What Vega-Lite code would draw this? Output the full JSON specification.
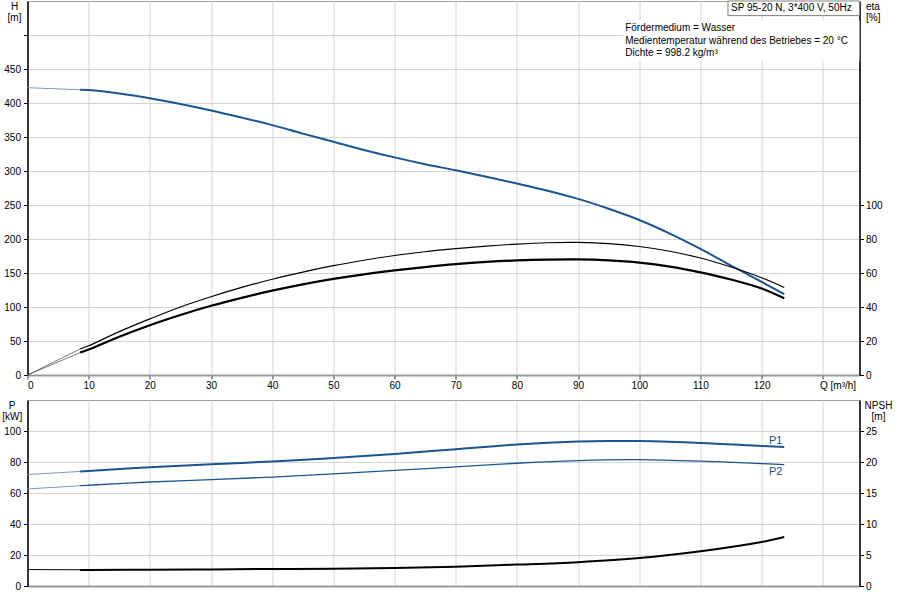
{
  "$schema": "https://vega.github.io/schema/vega-lite/v6.json",
  "background": "white",
  "padding": {"left": 0.5, "top": 0, "right": 0, "bottom": 0},
  "spacing": 25,
  "bounds": "flush",
  "config": {
    "font": "Liberation Sans",
    "view": {"stroke": "#a0a0a0", "strokeWidth": 1},
    "axis": {
      "labelFont": "Liberation Sans", "labelFontSize": 10, "labelColor": "#000000",
      "titleFont": "Liberation Sans", "titleFontSize": 10, "titleFontWeight": "normal", "titleColor": "#000000",
      "gridColor": "#d4d4d4", "gridWidth": 1, "tickSize": 4, "tickColor": "#333333", "labelPadding": 3
    },
    "text": {"font": "Liberation Sans", "fontSize": 10}
  },
  "datasets": {
    "head": [
      {"Q": 0, "v": 422.5, "part": "ext"}, {"Q": 8.6, "v": 419.5, "part": "ext"},
      {"Q": 8.6, "v": 419.5, "part": "main"}, {"Q": 10, "v": 419, "part": "main"}, {"Q": 15, "v": 414, "part": "main"},
      {"Q": 20, "v": 407, "part": "main"}, {"Q": 25, "v": 398.5, "part": "main"}, {"Q": 30, "v": 389, "part": "main"},
      {"Q": 35, "v": 378.5, "part": "main"}, {"Q": 40, "v": 367.5, "part": "main"}, {"Q": 45, "v": 355, "part": "main"},
      {"Q": 50, "v": 343, "part": "main"}, {"Q": 55, "v": 331, "part": "main"}, {"Q": 60, "v": 320, "part": "main"},
      {"Q": 65, "v": 310, "part": "main"}, {"Q": 70, "v": 301, "part": "main"}, {"Q": 75, "v": 291.5, "part": "main"},
      {"Q": 80, "v": 281.5, "part": "main"}, {"Q": 85, "v": 271, "part": "main"}, {"Q": 90, "v": 259, "part": "main"},
      {"Q": 95, "v": 244.5, "part": "main"}, {"Q": 100, "v": 228, "part": "main"}, {"Q": 105, "v": 208, "part": "main"},
      {"Q": 110, "v": 185.5, "part": "main"}, {"Q": 115, "v": 161, "part": "main"}, {"Q": 120, "v": 137, "part": "main"},
      {"Q": 123.7, "v": 119, "part": "main"}
    ],
    "eta": [
      {"Q": 0, "v": 0, "curve": "eta1", "part": "ext"}, {"Q": 8.6, "v": 15.3, "curve": "eta1", "part": "ext"},
      {"Q": 8.6, "v": 15.3, "curve": "eta1", "part": "main"}, {"Q": 10, "v": 17.2, "curve": "eta1", "part": "main"},
      {"Q": 15, "v": 25.5, "curve": "eta1", "part": "main"}, {"Q": 20, "v": 33, "curve": "eta1", "part": "main"},
      {"Q": 25, "v": 40, "curve": "eta1", "part": "main"}, {"Q": 30, "v": 46, "curve": "eta1", "part": "main"},
      {"Q": 35, "v": 51.5, "curve": "eta1", "part": "main"}, {"Q": 40, "v": 56.3, "curve": "eta1", "part": "main"},
      {"Q": 45, "v": 60.5, "curve": "eta1", "part": "main"}, {"Q": 50, "v": 64.3, "curve": "eta1", "part": "main"},
      {"Q": 55, "v": 67.5, "curve": "eta1", "part": "main"}, {"Q": 60, "v": 70.3, "curve": "eta1", "part": "main"},
      {"Q": 65, "v": 72.5, "curve": "eta1", "part": "main"}, {"Q": 70, "v": 74.3, "curve": "eta1", "part": "main"},
      {"Q": 75, "v": 75.8, "curve": "eta1", "part": "main"}, {"Q": 80, "v": 77, "curve": "eta1", "part": "main"},
      {"Q": 85, "v": 77.8, "curve": "eta1", "part": "main"}, {"Q": 90, "v": 78, "curve": "eta1", "part": "main"},
      {"Q": 95, "v": 77.3, "curve": "eta1", "part": "main"}, {"Q": 100, "v": 75.6, "curve": "eta1", "part": "main"},
      {"Q": 105, "v": 72.8, "curve": "eta1", "part": "main"}, {"Q": 110, "v": 68.8, "curve": "eta1", "part": "main"},
      {"Q": 115, "v": 63.5, "curve": "eta1", "part": "main"}, {"Q": 120, "v": 57.2, "curve": "eta1", "part": "main"},
      {"Q": 123.7, "v": 51.5, "curve": "eta1", "part": "main"},
      {"Q": 0, "v": 0, "curve": "eta2", "part": "ext"}, {"Q": 8.6, "v": 13.2, "curve": "eta2", "part": "ext"},
      {"Q": 8.6, "v": 13.2, "curve": "eta2", "part": "main"}, {"Q": 10, "v": 15, "curve": "eta2", "part": "main"},
      {"Q": 15, "v": 22.5, "curve": "eta2", "part": "main"}, {"Q": 20, "v": 29.3, "curve": "eta2", "part": "main"},
      {"Q": 25, "v": 35.3, "curve": "eta2", "part": "main"}, {"Q": 30, "v": 40.7, "curve": "eta2", "part": "main"},
      {"Q": 35, "v": 45.4, "curve": "eta2", "part": "main"}, {"Q": 40, "v": 49.6, "curve": "eta2", "part": "main"},
      {"Q": 45, "v": 53.3, "curve": "eta2", "part": "main"}, {"Q": 50, "v": 56.5, "curve": "eta2", "part": "main"},
      {"Q": 55, "v": 59.2, "curve": "eta2", "part": "main"}, {"Q": 60, "v": 61.5, "curve": "eta2", "part": "main"},
      {"Q": 65, "v": 63.5, "curve": "eta2", "part": "main"}, {"Q": 70, "v": 65.2, "curve": "eta2", "part": "main"},
      {"Q": 75, "v": 66.5, "curve": "eta2", "part": "main"}, {"Q": 80, "v": 67.4, "curve": "eta2", "part": "main"},
      {"Q": 85, "v": 67.9, "curve": "eta2", "part": "main"}, {"Q": 90, "v": 68, "curve": "eta2", "part": "main"},
      {"Q": 95, "v": 67.4, "curve": "eta2", "part": "main"}, {"Q": 100, "v": 66.1, "curve": "eta2", "part": "main"},
      {"Q": 105, "v": 63.8, "curve": "eta2", "part": "main"}, {"Q": 110, "v": 60.4, "curve": "eta2", "part": "main"},
      {"Q": 115, "v": 56.2, "curve": "eta2", "part": "main"}, {"Q": 120, "v": 50.9, "curve": "eta2", "part": "main"},
      {"Q": 123.7, "v": 45.1, "curve": "eta2", "part": "main"}
    ],
    "power": [
      {"Q": 0, "v": 71.9, "curve": "P1", "part": "ext"}, {"Q": 8.6, "v": 73.9, "curve": "P1", "part": "ext"},
      {"Q": 8.6, "v": 73.9, "curve": "P1", "part": "main"}, {"Q": 10, "v": 74.2, "curve": "P1", "part": "main"},
      {"Q": 20, "v": 76.6, "curve": "P1", "part": "main"}, {"Q": 30, "v": 78.6, "curve": "P1", "part": "main"},
      {"Q": 40, "v": 80.3, "curve": "P1", "part": "main"}, {"Q": 50, "v": 82.6, "curve": "P1", "part": "main"},
      {"Q": 60, "v": 85.2, "curve": "P1", "part": "main"}, {"Q": 70, "v": 88.3, "curve": "P1", "part": "main"},
      {"Q": 80, "v": 91.3, "curve": "P1", "part": "main"}, {"Q": 90, "v": 93.2, "curve": "P1", "part": "main"},
      {"Q": 95, "v": 93.6, "curve": "P1", "part": "main"}, {"Q": 100, "v": 93.5, "curve": "P1", "part": "main"},
      {"Q": 110, "v": 92.3, "curve": "P1", "part": "main"}, {"Q": 120, "v": 90.3, "curve": "P1", "part": "main"},
      {"Q": 123.7, "v": 89.7, "curve": "P1", "part": "main"},
      {"Q": 0, "v": 62.6, "curve": "P2", "part": "ext"}, {"Q": 8.6, "v": 64.7, "curve": "P2", "part": "ext"},
      {"Q": 8.6, "v": 64.7, "curve": "P2", "part": "main"}, {"Q": 10, "v": 65.0, "curve": "P2", "part": "main"},
      {"Q": 20, "v": 67.1, "curve": "P2", "part": "main"}, {"Q": 30, "v": 68.6, "curve": "P2", "part": "main"},
      {"Q": 40, "v": 70.3, "curve": "P2", "part": "main"}, {"Q": 50, "v": 72.3, "curve": "P2", "part": "main"},
      {"Q": 60, "v": 74.6, "curve": "P2", "part": "main"}, {"Q": 70, "v": 76.8, "curve": "P2", "part": "main"},
      {"Q": 80, "v": 79.2, "curve": "P2", "part": "main"}, {"Q": 90, "v": 80.9, "curve": "P2", "part": "main"},
      {"Q": 95, "v": 81.4, "curve": "P2", "part": "main"}, {"Q": 100, "v": 81.5, "curve": "P2", "part": "main"},
      {"Q": 110, "v": 80.5, "curve": "P2", "part": "main"}, {"Q": 120, "v": 79.0, "curve": "P2", "part": "main"},
      {"Q": 123.7, "v": 78.3, "curve": "P2", "part": "main"}
    ],
    "npsh": [
      {"Q": 0, "v": 2.65, "part": "ext"}, {"Q": 8.6, "v": 2.62, "part": "ext"},
      {"Q": 8.6, "v": 2.6, "part": "main"}, {"Q": 10, "v": 2.6, "part": "main"}, {"Q": 20, "v": 2.62, "part": "main"},
      {"Q": 30, "v": 2.68, "part": "main"}, {"Q": 40, "v": 2.74, "part": "main"}, {"Q": 50, "v": 2.8, "part": "main"},
      {"Q": 60, "v": 2.92, "part": "main"}, {"Q": 70, "v": 3.12, "part": "main"}, {"Q": 80, "v": 3.45, "part": "main"},
      {"Q": 90, "v": 3.85, "part": "main"}, {"Q": 100, "v": 4.5, "part": "main"}, {"Q": 110, "v": 5.6, "part": "main"},
      {"Q": 120, "v": 7.1, "part": "main"}, {"Q": 123.7, "v": 7.9, "part": "main"}
    ],
    "boxes": [
      {"kind": "bg", "Q": 97.3, "Q2": 136, "v": 521, "v2": 462},
      {"kind": "box", "Q": 114.5, "Q2": 136, "v": 550, "v2": 528.5}
    ],
    "notes": [
      {"Q": 115.0, "v": 539.5, "label": "SP 95-20 N, 3*400 V, 50Hz"},
      {"Q": 97.7, "v": 511, "label": "Fördermedium = Wasser"},
      {"Q": 97.7, "v": 491.6, "label": "Medientemperatur während des Betriebes = 20 °C"},
      {"Q": 97.7, "v": 473.5, "label": "Dichte = 998.2 kg/m³"}
    ],
    "tags": [
      {"Q": 122.3, "v": 93.5, "label": "P1"},
      {"Q": 122.3, "v": 73.8, "label": "P2"}
    ]
  },
  "vconcat": [
    {
      "width": 832,
      "height": 374,
      "encoding": {
        "x": {
          "field": "Q", "type": "quantitative",
          "scale": {"domain": [0, 136], "nice": false},
          "axis": {
            "values": [0, 10, 20, 30, 40, 50, 60, 70, 80, 90, 100, 110, 120, 130],
            "labelExpr": "datum.value >= 130 ? '' : datum.label",
            "grid": true, "domainColor": "#999999", "domainWidth": 2,
            "tickSize": 4, "labelPadding": 1,
            "title": "Q [m³/h]", "titleX": 792, "titleY": 5,
            "titleAlign": "left", "titleBaseline": "top", "titleAnchor": "start"
          }
        }
      },
      "layer": [
        {
          "encoding": {
            "y": {
              "field": "v", "type": "quantitative",
              "scale": {"domain": [0, 550], "nice": false},
              "axis": {
                "values": [0, 50, 100, 150, 200, 250, 300, 350, 400, 450, 500],
                "labelExpr": "datum.value >= 500 ? '' : datum.label",
                "grid": true, "domainColor": "#000000", "domainWidth": 1.5, "tickColor": "#000000",
                "title": ["H", "[m]"], "titleAngle": 0, "titleX": -13.5, "titleY": 0,
                "titleAlign": "center", "titleBaseline": "top", "titleLineHeight": 11
              }
            }
          },
          "layer": [
            {
              "data": {"name": "boxes"},
              "transform": [{"filter": "datum.kind == 'bg'"}],
              "mark": {"type": "rect", "fill": "white", "strokeWidth": 0},
              "encoding": {"x2": {"field": "Q2"}, "y2": {"field": "v2"}}
            },
            {
              "data": {"name": "boxes"},
              "transform": [{"filter": "datum.kind == 'box'"}],
              "mark": {"type": "rect", "fill": "white", "stroke": "#808080", "strokeWidth": 1},
              "encoding": {"x2": {"field": "Q2"}, "y2": {"field": "v2"}}
            },
            {
              "data": {"name": "notes"},
              "mark": {"type": "text", "align": "left", "baseline": "middle", "color": "#000000"},
              "encoding": {"text": {"field": "label"}}
            },
            {
              "data": {"name": "head"},
              "transform": [{"filter": "datum.part == 'ext'"}],
              "mark": {"type": "line", "color": "#7d9bbb", "strokeWidth": 1}
            },
            {
              "data": {"name": "head"},
              "transform": [{"filter": "datum.part == 'main'"}],
              "mark": {"type": "line", "color": "#1a5590", "strokeWidth": 2, "interpolate": "catmull-rom"}
            }
          ]
        },
        {
          "data": {"name": "eta"},
          "encoding": {
            "y": {
              "field": "v", "type": "quantitative",
              "scale": {"domain": [0, 220], "nice": false},
              "axis": {
                "orient": "right", "values": [0, 20, 40, 60, 80, 100], "grid": false,
                "domainColor": "#000000", "domainWidth": 1.5, "tickColor": "#000000", "labelPadding": 2,
                "title": ["eta", "[%]"], "titleAngle": 0, "titleX": 6, "titleY": 0,
                "titleAlign": "left", "titleBaseline": "top", "titleLineHeight": 11
              }
            },
            "detail": {"field": "curve"}
          },
          "layer": [
            {
              "transform": [{"filter": "datum.part == 'ext'"}],
              "mark": {"type": "line", "color": "#555555", "strokeWidth": 0.8}
            },
            {
              "transform": [{"filter": "datum.part == 'main' && datum.curve == 'eta1'"}],
              "mark": {"type": "line", "color": "#000000", "strokeWidth": 1.2, "interpolate": "catmull-rom"}
            },
            {
              "transform": [{"filter": "datum.part == 'main' && datum.curve == 'eta2'"}],
              "mark": {"type": "line", "color": "#000000", "strokeWidth": 2.2, "interpolate": "catmull-rom"}
            }
          ]
        }
      ],
      "resolve": {"scale": {"y": "independent"}}
    },
    {
      "width": 832,
      "height": 186,
      "encoding": {
        "x": {
          "field": "Q", "type": "quantitative",
          "scale": {"domain": [0, 136], "nice": false},
          "axis": {
            "values": [0, 10, 20, 30, 40, 50, 60, 70, 80, 90, 100, 110, 120, 130],
            "labels": false, "ticks": false, "title": null,
            "grid": true, "domainColor": "#999999", "domainWidth": 2
          }
        }
      },
      "layer": [
        {
          "encoding": {
            "y": {
              "field": "v", "type": "quantitative",
              "scale": {"domain": [0, 120], "nice": false},
              "axis": {
                "values": [0, 20, 40, 60, 80, 100], "grid": true,
                "domainColor": "#000000", "domainWidth": 1.5, "tickColor": "#000000",
                "title": ["P", "[kW]"], "titleAngle": 0, "titleX": -15.8, "titleY": 0,
                "titleAlign": "center", "titleBaseline": "top", "titleLineHeight": 11
              }
            }
          },
          "layer": [
            {
              "data": {"name": "power"},
              "transform": [{"filter": "datum.part == 'ext'"}],
              "mark": {"type": "line", "color": "#7d9bbb", "strokeWidth": 1},
              "encoding": {"detail": {"field": "curve"}}
            },
            {
              "data": {"name": "power"},
              "transform": [{"filter": "datum.part == 'main' && datum.curve == 'P1'"}],
              "mark": {"type": "line", "color": "#1a5590", "strokeWidth": 2, "interpolate": "catmull-rom"}
            },
            {
              "data": {"name": "power"},
              "transform": [{"filter": "datum.part == 'main' && datum.curve == 'P2'"}],
              "mark": {"type": "line", "color": "#1a5590", "strokeWidth": 1.3, "interpolate": "catmull-rom"}
            },
            {
              "data": {"name": "tags"},
              "mark": {"type": "text", "align": "center", "baseline": "middle", "color": "#1a4f85", "fontSize": 11},
              "encoding": {"text": {"field": "label"}}
            }
          ]
        },
        {
          "data": {"name": "npsh"},
          "encoding": {
            "y": {
              "field": "v", "type": "quantitative",
              "scale": {"domain": [0, 30], "nice": false},
              "axis": {
                "orient": "right", "values": [0, 5, 10, 15, 20, 25], "grid": false,
                "domainColor": "#000000", "domainWidth": 1.5, "tickColor": "#000000", "labelPadding": 2,
                "title": ["NPSH", "[m]"], "titleAngle": 0, "titleX": 18.5, "titleY": 0,
                "titleAlign": "center", "titleBaseline": "top", "titleLineHeight": 11
              }
            }
          },
          "layer": [
            {
              "transform": [{"filter": "datum.part == 'ext'"}],
              "mark": {"type": "line", "color": "#000000", "strokeWidth": 1}
            },
            {
              "transform": [{"filter": "datum.part == 'main'"}],
              "mark": {"type": "line", "color": "#000000", "strokeWidth": 2, "interpolate": "catmull-rom"}
            }
          ]
        }
      ],
      "resolve": {"scale": {"y": "independent"}}
    }
  ]
}
